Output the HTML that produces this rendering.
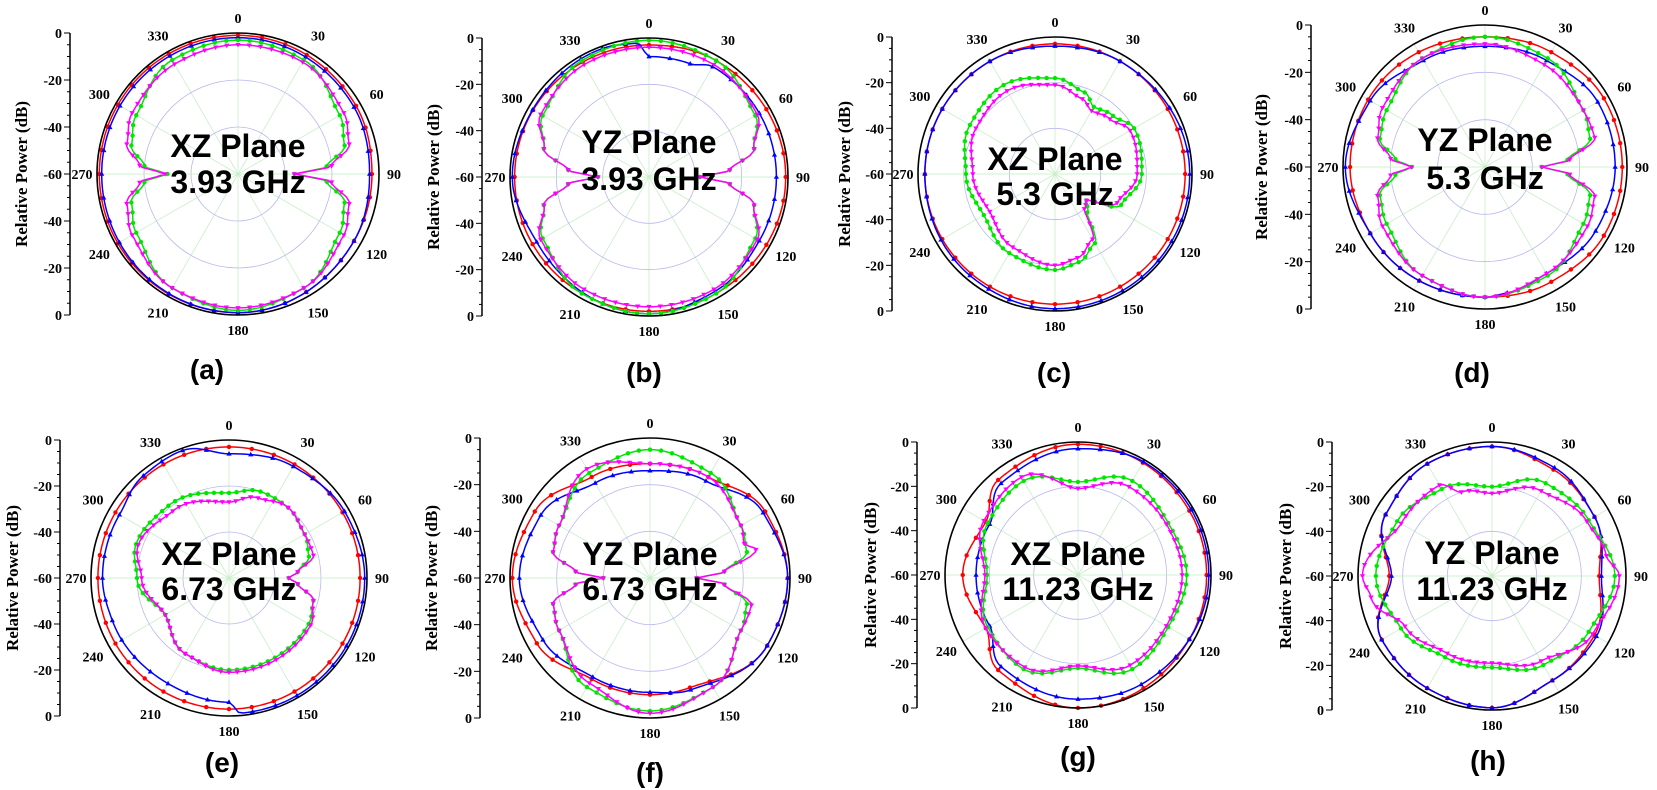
<!DOCTYPE html>
<html><head><meta charset="utf-8"><style>
html,body{margin:0;padding:0;background:#fff;}
svg{display:block;}
</style></head><body>
<svg id="s" width="1657" height="790" xmlns="http://www.w3.org/2000/svg"></svg>
<script>
const P=[
{cx:238,cy:174,r:141,ax:70,yl:23,capx:207,capy:379,t:["XZ Plane","3.93 GHz"],to:[-17,19],
 s:{red:[[0,-1],[60,-2],[90,-3],[120,-3],[180,-1],[270,-1],[360,-1]],
    blue:[[0,-2],[60,-3],[90,-4],[120,-3],[180,-1],[270,-2],[360,-2]],
    green:[[0,-3],[30,-4],[60,-10],[75,-13],[85,-22],[90,-36],[95,-22],[105,-13],[120,-10],[150,-4],[180,-2],[210,-4],[240,-10],[255,-13],[265,-20],[270,-30],[275,-20],[285,-13],[300,-10],[330,-4],[360,-3]],
    mag:[[0,-5],[30,-5],[60,-8],[75,-11],[85,-20],[90,-36],[95,-20],[105,-11],[120,-8],[150,-4],[180,-3],[210,-4],[240,-8],[255,-11],[265,-18],[270,-29],[275,-18],[285,-11],[300,-8],[330,-6],[360,-5]]}},
{cx:649,cy:177,r:139,ax:482,yl:435,capx:644,capy:382,t:["YZ Plane","3.93 GHz"],to:[-24,13],
 s:{red:[[0,-3],[30,-2],[90,-1],[150,-2],[180,-2],[270,-2],[360,-3]],
    blue:[[0,-8],[20,-8],[30,-5],[60,-5],[90,-5],[120,-5],[150,-3],[180,-1],[240,-4],[270,-1],[300,-2],[340,-1],[355,-2],[360,-8]],
    green:[[0,-1],[30,-2],[60,-7],[75,-13],[85,-25],[90,-38],[95,-25],[105,-13],[120,-7],[150,-2],[180,-1],[210,-2],[240,-7],[255,-13],[265,-25],[270,-38],[275,-25],[285,-13],[300,-7],[330,-2],[360,-1]],
    mag:[[0,-4],[30,-4],[60,-6],[75,-13],[85,-25],[90,-38],[95,-25],[105,-13],[120,-6],[150,-4],[180,-4],[210,-4],[240,-6],[255,-13],[265,-25],[270,-38],[275,-25],[285,-13],[300,-6],[330,-4],[360,-4]]}},
{cx:1055,cy:174,r:137,ax:892,yl:846,capx:1054,capy:382,t:["XZ Plane","5.3 GHz"],to:[-4,31],
 s:{red:[[0,-3],[90,-3],[180,-3],[270,-3],[360,-3]],
    blue:[[0,-4],[30,-3],[90,-1],[150,-1],[180,-1],[220,-2],[270,-3],[330,-3],[360,-4]],
    green:[[0,-18],[20,-22],[30,-26],[45,-24],[60,-20],[90,-22],[115,-28],[130,-42],[140,-38],[150,-25],[165,-20],[180,-18],[210,-20],[240,-24],[270,-21],[300,-17],[330,-15],[360,-18]],
    mag:[[0,-21],[20,-25],[30,-28],[45,-26],[60,-22],[90,-24],[115,-30],[130,-42],[140,-40],[150,-27],[165,-22],[180,-20],[210,-23],[240,-27],[270,-24],[300,-20],[330,-18],[360,-21]]}},
{cx:1485,cy:167,r:142,ax:1311,yl:1263,capx:1472,capy:382,t:["YZ Plane","5.3 GHz"],to:[-16,22],
 s:{red:[[0,-5],[30,-4],[60,-2],[90,-2],[120,-2],[150,-4],[180,-5],[240,-4],[270,-3],[300,-3],[360,-5]],
    blue:[[0,-9],[30,-8],[60,-5],[90,-5],[120,-6],[150,-8],[170,-6],[180,-5],[240,-4],[270,-1],[300,-4],[330,-8],[360,-9]],
    green:[[0,-5],[30,-7],[60,-12],[75,-14],[85,-25],[90,-36],[95,-25],[105,-14],[120,-12],[150,-7],[180,-5],[210,-7],[240,-12],[255,-14],[265,-22],[270,-29],[275,-22],[285,-14],[300,-12],[330,-7],[360,-5]],
    mag:[[0,-8],[30,-10],[60,-12],[75,-12],[85,-24],[90,-36],[95,-24],[105,-12],[120,-10],[150,-8],[180,-5],[210,-7],[240,-10],[255,-13],[265,-20],[270,-29],[275,-20],[285,-13],[300,-10],[330,-7],[360,-8]]}},
{cx:229,cy:578,r:138,ax:60,yl:14,capx:222,capy:772,t:["XZ Plane","6.73 GHz"],to:[-13,22],
 s:{red:[[0,-3],[90,-3],[180,-3],[270,-3],[360,-3]],
    blue:[[0,-6],[30,-4],[60,-2],[90,-1],[150,-1],[175,-1],[180,-6],[210,-7],[250,-6],[270,-5],[300,-5],[320,-2],[340,-1],[360,-6]],
    green:[[0,-23],[20,-20],[40,-20],[60,-22],[75,-24],[85,-30],[90,-34],[95,-30],[105,-22],[120,-20],[150,-20],[180,-20],[210,-22],[240,-28],[270,-20],[290,-17],[320,-19],[360,-23]],
    mag:[[0,-27],[20,-23],[40,-20],[60,-22],[75,-22],[85,-30],[90,-34],[95,-30],[105,-22],[120,-19],[150,-19],[180,-19],[210,-22],[240,-28],[270,-22],[290,-18],[320,-22],[360,-27]]}},
{cx:650,cy:578,r:140,ax:480,yl:433,capx:650,capy:782,t:["YZ Plane","6.73 GHz"],to:[-13,22],
 s:{red:[[0,-11],[30,-10],[60,-3],[90,-1],[120,-2],[160,-10],[180,-10],[210,-10],[240,-4],[270,-1],[300,-3],[330,-10],[360,-11]],
    blue:[[0,-14],[30,-12],[60,-4],[90,-1],[120,-2],[160,-9],[180,-11],[210,-11],[240,-7],[270,-4],[300,-6],[330,-13],[360,-14]],
    green:[[0,-5],[30,-8],[60,-15],[75,-17],[85,-28],[90,-40],[95,-28],[105,-17],[120,-15],[150,-6],[180,-3],[210,-6],[240,-15],[255,-17],[265,-28],[270,-40],[275,-28],[285,-17],[300,-15],[330,-8],[360,-5]],
    mag:[[0,-11],[30,-10],[60,-15],[70,-17],[75,-13],[85,-28],[90,-40],[95,-28],[105,-15],[120,-15],[150,-6],[180,-2],[210,-8],[240,-15],[255,-17],[265,-28],[270,-40],[275,-28],[285,-17],[300,-15],[330,-6],[360,-11]]}},
{cx:1078,cy:575,r:133,ax:917,yl:872,capx:1078,capy:766,t:["XZ Plane","11.23 GHz"],to:[-10,25],
 s:{red:[[0,-1],[60,-2],[90,-2],[120,-2],[180,0],[220,-4],[240,-12],[270,-8],[300,-12],[320,-4],[360,-1]],
    blue:[[0,-3],[30,-1],[90,-1],[150,-3],[180,-4],[220,-6],[240,-14],[270,-14],[300,-14],[320,-6],[360,-3]],
    green:[[0,-18],[30,-11],[60,-13],[90,-11],[120,-13],[150,-11],[180,-18],[210,-11],[240,-13],[270,-19],[300,-13],[330,-11],[360,-18]],
    mag:[[0,-21],[30,-14],[60,-14],[90,-13],[120,-14],[150,-13],[180,-19],[210,-12],[240,-12],[270,-18],[300,-11],[330,-9],[360,-21]]}},
{cx:1492,cy:576,r:134,ax:1332,yl:1287,capx:1488,capy:770,t:["YZ Plane","11.23 GHz"],to:[-12,24],
 s:{red:[[0,-2],[30,-5],[60,-7],[90,-12],[120,-7],[150,-6],[180,-1],[210,-2],[240,-3],[270,-14],[300,-5],[330,-2],[360,-2]],
    blue:[[0,-2],[30,-4],[60,-7],[90,-11],[120,-6],[150,-6],[180,-1],[210,-2],[240,-3],[270,-15],[300,-5],[330,-2],[360,-2]],
    green:[[0,-20],[30,-12],[60,-10],[90,-5],[120,-10],[150,-14],[180,-19],[210,-18],[240,-13],[270,-8],[300,-11],[330,-15],[360,-20]],
    mag:[[0,-23],[30,-16],[60,-11],[80,-8],[90,-3],[120,-8],[150,-16],[180,-21],[210,-20],[240,-15],[260,-5],[270,-2],[300,-13],[330,-13],[340,-20],[360,-23]]}}
];
const NS="http://www.w3.org/2000/svg";
const svg=document.getElementById("s");
function el(t,a,txt){const e=document.createElementNS(NS,t);for(const k in a)e.setAttribute(k,a[k]);if(txt!==undefined)e.textContent=txt;svg.appendChild(e);return e;}
function interp(pts,a){for(let i=0;i<pts.length-1;i++){const [a0,v0]=pts[i],[a1,v1]=pts[i+1];if(a>=a0&&a<=a1){const t=(a-a0)/(a1-a0||1);const s=(1-Math.cos(Math.PI*t))/2;return v0+(v1-v0)*s;}}return pts[0][1];}
const cols={red:"#ff0000",blue:"#0000ff",green:"#00e600",mag:"#ff00ff"};
P.forEach(p=>{
 const {cx,cy,r}=p;
 for(let a=0;a<360;a+=30){const th=a*Math.PI/180;el("line",{x1:cx,y1:cy,x2:cx+r*Math.sin(th),y2:cy-r*Math.cos(th),stroke:"#c8efc8","stroke-width":0.8});}
 [1/3,2/3].forEach(f=>el("circle",{cx,cy,r:r*f,fill:"none",stroke:"#b8b8f0","stroke-width":0.8}));
 el("line",{x1:cx-r,y1:cy,x2:cx+r,y2:cy,stroke:"#c8efc8","stroke-width":0.8});
 ["red","blue","green","mag"].forEach(k=>{
  const pts=p.s[k];let d="";
  for(let a=0;a<=360;a+=2){const v=interp(pts,a);const rr=r*(1+v/60);const th=a*Math.PI/180;d+=(a?"L":"M")+(cx+rr*Math.sin(th)).toFixed(1)+","+(cy-rr*Math.cos(th)).toFixed(1);}
  el("path",{d:d+"Z",fill:"none",stroke:cols[k],"stroke-width":1.5});
  const step=(k=="red"||k=="blue")?10:5;
  for(let a=0;a<360;a+=step){const v=interp(pts,a);const rr=r*(1+v/60);const th=a*Math.PI/180;const x=cx+rr*Math.sin(th),y=cy-rr*Math.cos(th);
   if(k=="red"||k=="green")el("circle",{cx:x,cy:y,r:2.2,fill:cols[k]});
   else if(k=="blue")el("polygon",{points:`${x},${y-2.8} ${x-2.6},${y+1.8} ${x+2.6},${y+1.8}`,fill:cols[k]});
   else el("polygon",{points:`${x},${y+2.8} ${x-2.6},${y-1.8} ${x+2.6},${y-1.8}`,fill:cols[k]});}
 });
 el("circle",{cx,cy,r,fill:"none",stroke:"#000","stroke-width":1.6});
 for(let a=0;a<360;a+=30){const th=a*Math.PI/180;const d=r+(a%90==0?15:19);const x=cx+d*Math.sin(th),y=cy-d*Math.cos(th)+5;
  el("text",{x,y,"text-anchor":"middle","font-family":"Liberation Serif, serif","font-weight":"bold","font-size":14},String(a));}
 const t=cy-r,b=cy+r;
 el("line",{x1:p.ax,y1:t,x2:p.ax,y2:b,stroke:"#000","stroke-width":1.5});
 const labs=["0","-20","-40","-60","-40","-20","0"];
 for(let i=0;i<=24;i++){const y=t+(b-t)*i/24;const maj=i%4==0;el("line",{x1:p.ax-(maj?6:3),y1:y,x2:p.ax,y2:y,stroke:"#000","stroke-width":1});
  if(maj)el("text",{x:p.ax-8,y:y+5,"text-anchor":"end","font-family":"Liberation Serif, serif","font-weight":"bold","font-size":14},labs[i/4]);}
 el("text",{x:p.yl,y:cy,"text-anchor":"middle","font-family":"Liberation Serif, serif","font-weight":"bold","font-size":17,transform:`rotate(-90 ${p.yl} ${cy})`,"dominant-baseline":"middle"},"Relative Power (dB)");
 p.t.forEach((s,i)=>el("text",{x:cx,y:cy+p.to[i],"text-anchor":"middle","font-family":"Liberation Sans, Arial, sans-serif","font-weight":"bold","font-size":32},s));
 el("text",{x:p.capx,y:p.capy,"text-anchor":"middle","font-family":"Liberation Sans, Arial, sans-serif","font-weight":"bold","font-size":28},"("+"abcdefgh"[P.indexOf(p)]+")");
});
</script>
</body></html>
